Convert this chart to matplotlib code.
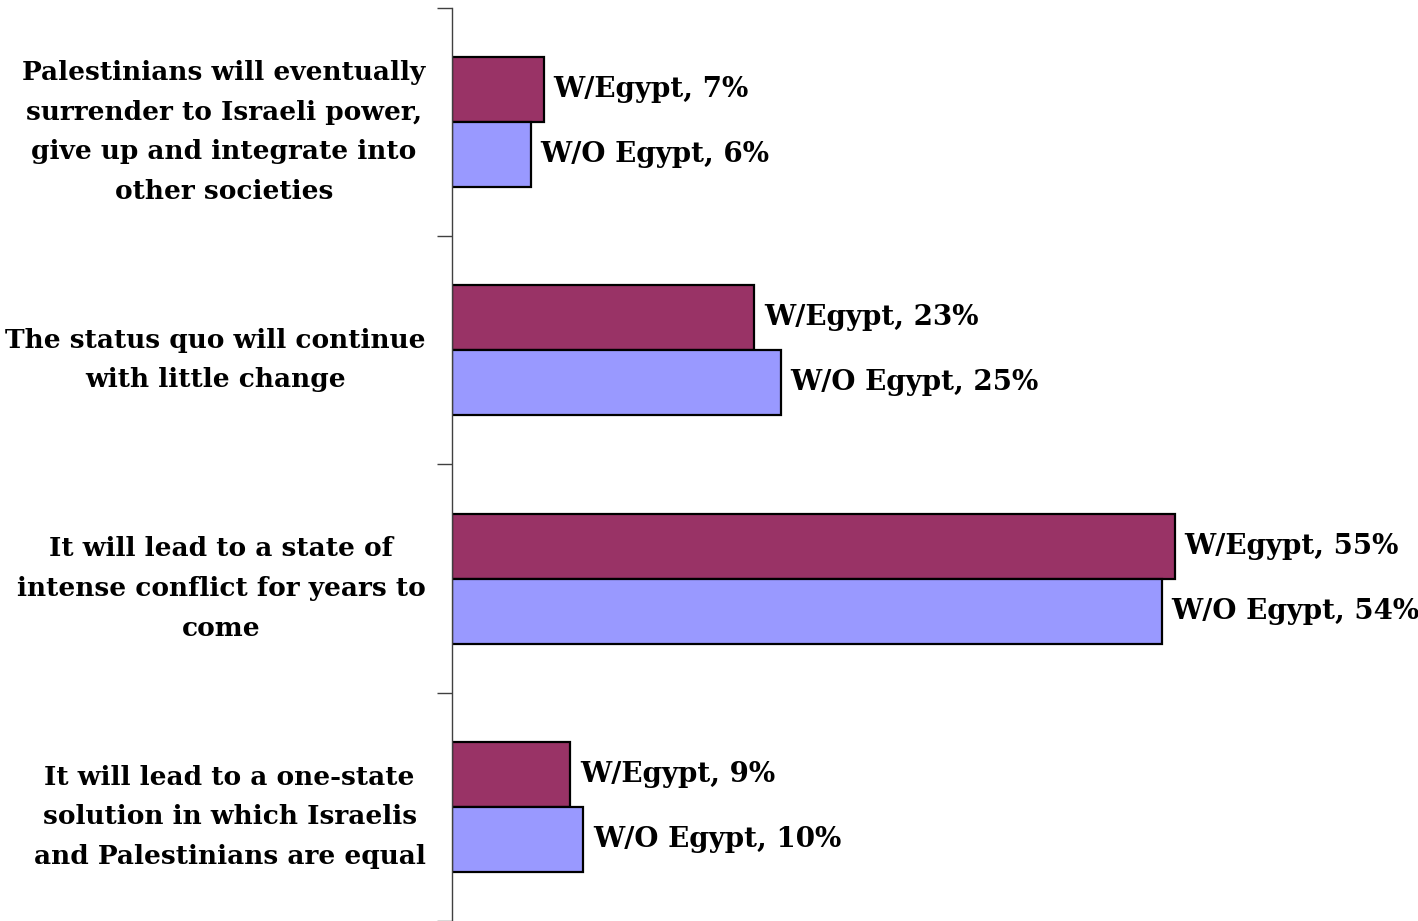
import numpy as np
import matplotlib.pyplot as plt

# Survey answers (top to bottom) and shares in percent
categories = [
    "Palestinians will eventually\nsurrender to Israeli power,\ngive up and integrate into\nother societies",
    "The status quo will continue\nwith little change",
    "It will lead to a state of\nintense conflict for years to\ncome",
    "It will lead to a one-state\nsolution in which Israelis\nand Palestinians are equal",
]
with_egypt = [7, 23, 55, 9]
without_egypt = [6, 25, 54, 10]
series_names = ["W/Egypt", "W/O Egypt"]

font = dict(family="DejaVu Serif", weight="bold", size=20)
cat_font = dict(family="DejaVu Serif", weight="bold", size=19)

fig = plt.figure(figsize=(14.18, 9.21), dpi=100)
ax = fig.add_axes([452 / 1418, 0.0, 1 - 452 / 1418, 1 - 8 / 921])

y = np.arange(len(categories))
h = 0.285
b1 = ax.barh(y - h / 2, with_egypt, height=h, color="#993366",
             edgecolor="black", linewidth=1.6)
b2 = ax.barh(y + h / 2, without_egypt, height=h, color="#9999FF",
             edgecolor="black", linewidth=1.6)

ax.bar_label(b1, labels=[f"{series_names[0]}, {v}%" for v in with_egypt],
             padding=7, **font)
ax.bar_label(b2, labels=[f"{series_names[1]}, {v}%" for v in without_egypt],
             padding=7, **font)

ax.set_xlim(0, (1418 - 452) / (723 / 55))
ax.set_ylim(len(categories) - 0.5, -0.5)

# ticks on band boundaries, labels at band centres
ax.set_yticks(np.arange(len(categories) + 1) - 0.5)
ax.set_yticklabels([])
ax.tick_params(axis="y", which="major", length=11, width=1, color="#404040")
ax.set_yticks(y, minor=True)
ax.set_yticklabels(categories, minor=True, fontdict=cat_font)
ax.tick_params(axis="y", which="minor", length=0, pad=19)
for t in ax.get_yticklabels(minor=True):
    t.set_multialignment("center")
    t.set_linespacing(1.73)

ax.set_xticks([])
for s in ["top", "right", "bottom"]:
    ax.spines[s].set_visible(False)
ax.spines["left"].set_color("#404040")
ax.spines["left"].set_linewidth(1)

fig.savefig("out.png", dpi=100)
